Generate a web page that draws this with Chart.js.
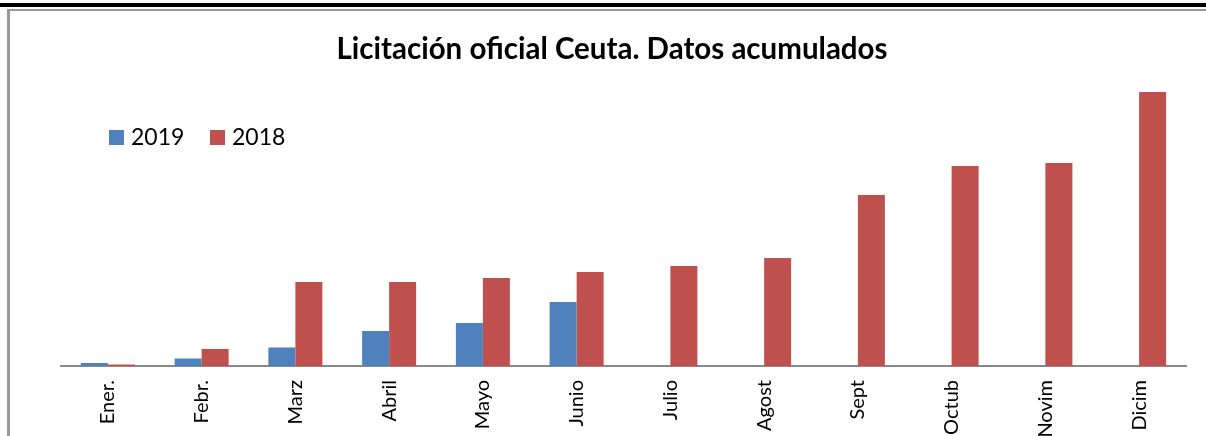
<!DOCTYPE html>
<html><head><meta charset="utf-8">
<script src="https://cdn.jsdelivr.net/npm/chart.js@4"></script>
<style>
html,body{margin:0;padding:0;background:#fff;overflow:hidden}
#wrap{position:relative;width:1206px;height:436px}
canvas{position:absolute;left:0;top:0}
.l1{position:absolute;left:0;top:3px;width:1206px;height:4px;background:#000}
.l2{position:absolute;left:7px;top:9px;width:1199px;height:2px;background:#999}
.l3{position:absolute;left:7px;top:9px;width:3px;height:427px;background:#999}
</style></head>
<body>
<div id="wrap"><canvas id="c" width="1206" height="436"></canvas><div class="l1"></div><div class="l2"></div><div class="l3"></div></div>
<script>
const categories = ['Ener.','Febr.','Marz','Abril','Mayo','Junio','Julio','Agost','Sept','Octub','Novim','Dicim'];
const seriesLabels = ['2019','2018'];
const values2019 = [3, 7.5, 18.5, 35, 43, 64, null, null, null, null, null, null];
const values2018 = [1.5, 17, 84, 84, 88, 94, 100, 108, 171, 200, 203, 274];
const titleText = 'Licitación oficial Ceuta. Datos acumulados';
const colors = ['#4F81BD', '#C0504D'];
const FONT = 'Lato, "Open Sans", sans-serif';

const legendPlugin = {
  id: 'customLegend',
  afterDraw(chart) {
    const ctx = chart.ctx;
    const xs = [109, 210];
    ctx.save();
    chart.data.datasets.forEach((ds, i) => {
      ctx.fillStyle = ds.backgroundColor;
      ctx.fillRect(xs[i], 130, 15, 15);
      ctx.fillStyle = '#000';
      ctx.font = '23px ' + FONT;
      ctx.textBaseline = 'middle';
      ctx.textAlign = 'left';
      ctx.fillText(ds.label, xs[i] + 22, 137.5);
    });
    ctx.restore();
  }
};

new Chart(document.getElementById('c'), {
  type: 'bar',
  data: {
    labels: categories,
    datasets: [
      { label: seriesLabels[0], data: values2019, backgroundColor: colors[0] },
      { label: seriesLabels[1], data: values2018, backgroundColor: colors[1] }
    ]
  },
  options: {
    responsive: false,
    animation: false,
    devicePixelRatio: 1,
    layout: { padding: { left: 38, right: 20, top: 0, bottom: 0 } },
    datasets: { bar: { categoryPercentage: 0.576, barPercentage: 1.0 } },
    plugins: {
      legend: { display: false },
      tooltip: { enabled: false },
      title: {
        display: true,
        text: titleText,
        color: '#000',
        font: { family: FONT, size: 29.5, weight: 'bold', lineHeight: 1.0 },
        padding: { top: 35, bottom: 1.5 }
      }
    },
    scales: {
      x: {
        grid: { display: false, drawTicks: false },
        border: { display: true, color: '#898989', width: 2 },
        ticks: { minRotation: 90, maxRotation: 90, padding: 14, color: '#000', font: { family: FONT, size: 20 } },
        afterFit(s) { s.height = 70; }
      },
      y: {
        min: 0, max: 300,
        grid: { display: false, drawTicks: false },
        border: { display: false },
        ticks: { display: false },
        afterFit(s) { s.width = 23; }
      }
    }
  },
  plugins: [legendPlugin]
});
</script>
</body></html>
